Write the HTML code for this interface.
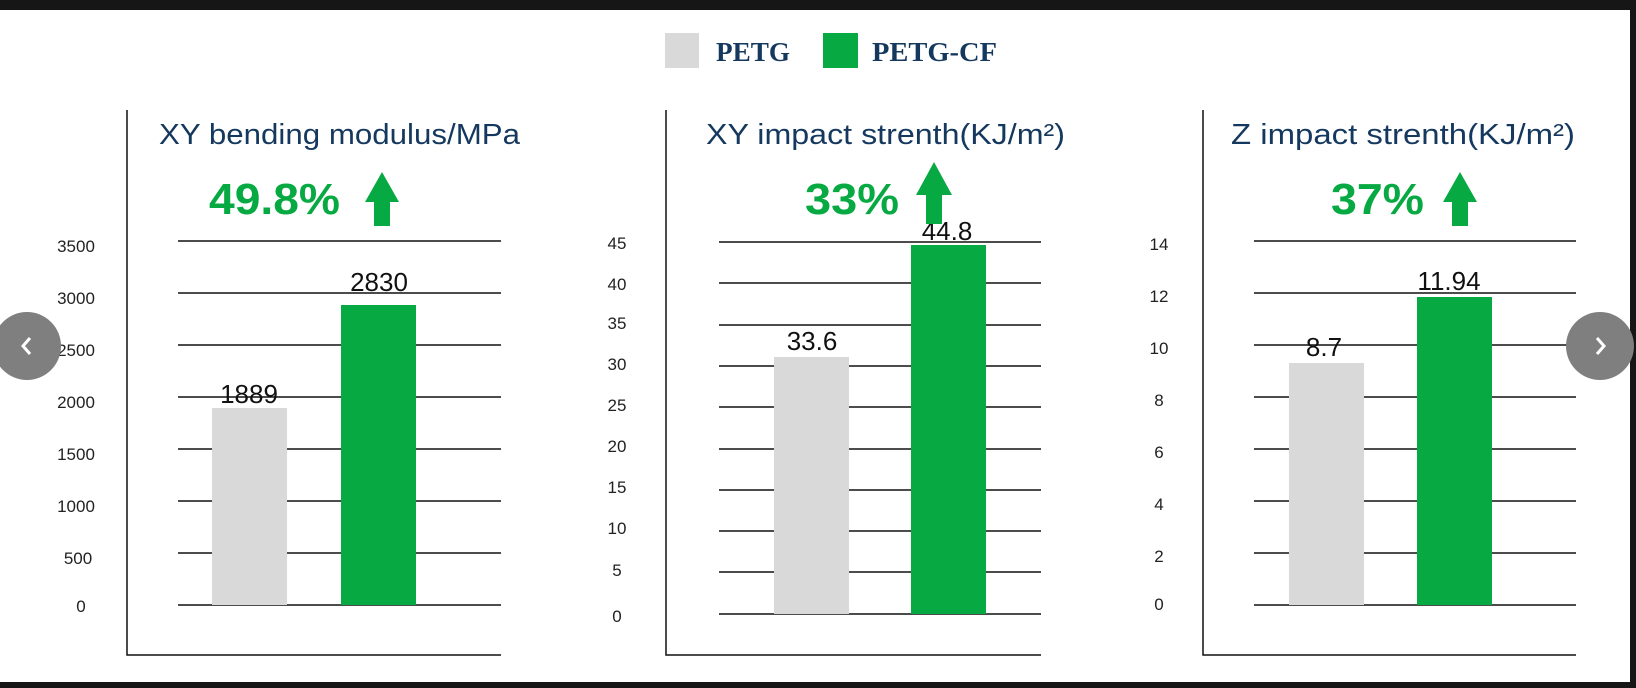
<!DOCTYPE html>
<html><head><meta charset="utf-8"><style>
html,body{margin:0;padding:0;background:#fff;}
svg{display:block;}
text{font-family:"Liberation Sans","Noto Sans CJK SC",sans-serif;}
</style></head><body>
<svg width="1636" height="688" viewBox="0 0 1636 688" xmlns="http://www.w3.org/2000/svg">
<rect width="1636" height="688" fill="#fff"/>
<rect x="0" y="0" width="1636" height="10" fill="#161616"/>
<rect x="0" y="682" width="1636" height="6" fill="#161616"/>
<rect x="1630" y="0" width="6" height="688" fill="#161616"/>
<!-- legend -->
<rect x="665" y="33" width="34" height="35" fill="#d9d9d9"/>
<text x="716" y="61" font-family="Liberation Serif,serif" font-weight="bold" font-size="27" fill="#15385e" textLength="74" lengthAdjust="spacingAndGlyphs" style="font-family:'Liberation Serif',serif">PETG</text>
<rect x="823" y="33" width="35" height="35" fill="#07a942"/>
<text x="872" y="61" font-weight="bold" font-size="27" fill="#15385e" textLength="125" lengthAdjust="spacingAndGlyphs" style="font-family:'Liberation Serif',serif">PETG-CF</text>

<g stroke="#111" stroke-width="1.5" fill="none">
<!-- chart 1 -->
<path d="M127 110 V655 H501"/>
<path d="M178 241H501 M178 293H501 M178 345H501 M178 397H501 M178 449H501 M178 501H501 M178 553H501 M178 605H501"/>
<!-- chart 2 -->
<path d="M666 110 V655 H1041"/>
<path d="M719 242H1041 M719 283H1041 M719 325H1041 M719 366H1041 M719 407H1041 M719 449H1041 M719 490H1041 M719 531H1041 M719 572H1041 M719 614H1041"/>
<!-- chart 3 -->
<path d="M1203 110 V655 H1576"/>
<path d="M1254 241H1576 M1254 293H1576 M1254 345H1576 M1254 397H1576 M1254 449H1576 M1254 501H1576 M1254 553H1576 M1254 605H1576"/>
</g>
<!-- bars -->
<rect x="212" y="408" width="75" height="197" fill="#d9d9d9"/>
<rect x="341" y="305" width="75" height="300" fill="#07a942"/>
<rect x="774" y="357" width="75" height="257" fill="#d9d9d9"/>
<rect x="911" y="245" width="75" height="369" fill="#07a942"/>
<rect x="1289" y="363" width="75" height="242" fill="#d9d9d9"/>
<rect x="1417" y="297" width="75" height="308" fill="#07a942"/>
<!-- value labels -->
<g font-size="26" fill="#111" text-anchor="middle">
<text x="249" y="403">1889</text>
<text x="379" y="291">2830</text>
<text x="812" y="350">33.6</text>
<text x="947" y="240">44.8</text>
<text x="1324" y="356">8.7</text>
<text x="1449" y="290">11.94</text>
</g>
<!-- tick labels -->
<g font-size="17" fill="#222" text-anchor="middle">
<text x="76" y="252">3500</text><text x="76" y="304">3000</text><text x="76" y="356">2500</text><text x="76" y="408">2000</text><text x="76" y="460">1500</text><text x="76" y="512">1000</text><text x="78" y="564">500</text><text x="81" y="612">0</text>
<text x="617" y="249">45</text><text x="617" y="290">40</text><text x="617" y="329">35</text><text x="617" y="370">30</text><text x="617" y="411">25</text><text x="617" y="452">20</text><text x="617" y="493">15</text><text x="617" y="534">10</text><text x="617" y="576">5</text><text x="617" y="622">0</text>
<text x="1159" y="250">14</text><text x="1159" y="302">12</text><text x="1159" y="354">10</text><text x="1159" y="406">8</text><text x="1159" y="458">6</text><text x="1159" y="510">4</text><text x="1159" y="562">2</text><text x="1159" y="610">0</text>
</g>
<!-- titles -->
<g font-size="29" fill="#15385e">
<text x="159" y="144" textLength="361" lengthAdjust="spacingAndGlyphs">XY bending modulus/MPa</text>
<text x="706" y="144" textLength="359" lengthAdjust="spacingAndGlyphs">XY impact strenth(KJ/m²)</text>
<text x="1231" y="144" textLength="344" lengthAdjust="spacingAndGlyphs">Z impact strenth(KJ/m²)</text>
</g>
<!-- percentages -->
<g font-size="44" font-weight="bold" fill="#07a942">
<text x="209" y="214" textLength="131" lengthAdjust="spacingAndGlyphs">49.8%</text>
<text x="805" y="214" textLength="94" lengthAdjust="spacingAndGlyphs">33%</text>
<text x="1331" y="214" textLength="93" lengthAdjust="spacingAndGlyphs">37%</text>
</g>
<!-- arrows -->
<g fill="#07a942">
<path d="M382 172 L399 202 L390 202 L390 226 L374 226 L374 202 L365 202 Z"/>
<path d="M934 162 L952 195 L942 195 L942 224 L926 224 L926 195 L916 195 Z"/>
<path d="M1460 172 L1477 202 L1468 202 L1468 226 L1452 226 L1452 202 L1443 202 Z"/>
</g>
<!-- nav buttons -->
<circle cx="27" cy="346" r="34" fill="#7f7f7f"/>
<path d="M30 338 L23 346 L30 354" stroke="#fff" stroke-width="3" fill="none"/>
<circle cx="1600" cy="346" r="34" fill="#7f7f7f"/>
<path d="M1597 338 L1604 346 L1597 354" stroke="#fff" stroke-width="3" fill="none"/>
</svg>
</body></html>
